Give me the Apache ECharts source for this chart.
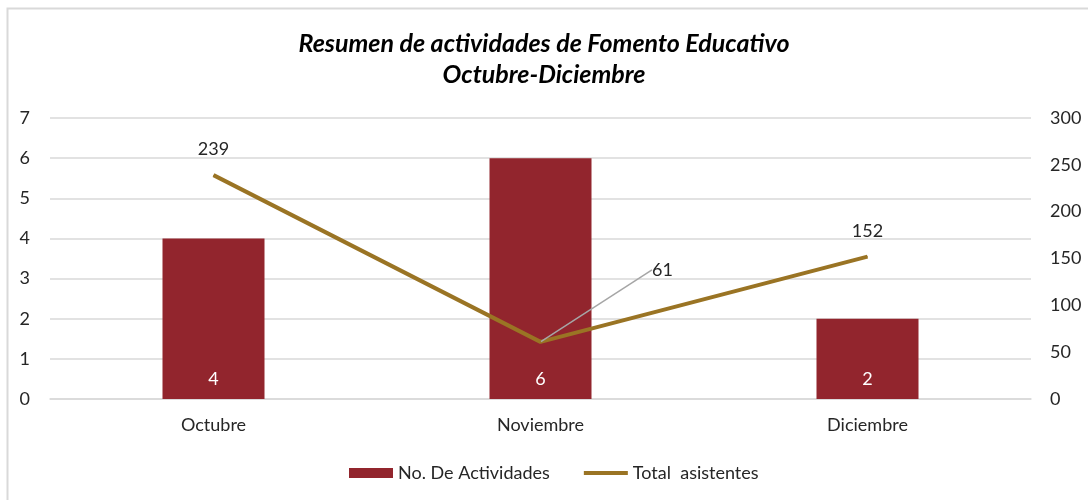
<!DOCTYPE html>
<html><head><meta charset="utf-8">
<script src="https://cdn.jsdelivr.net/npm/echarts@6/dist/echarts.min.js"></script>
<style>html,body{margin:0;padding:0;background:#fff}#c{width:1088px;height:500px}</style>
</head><body><div id="c"></div>
<script>
const categories = ['Octubre', 'Noviembre', 'Diciembre'];
const actividades = [4, 6, 2];
const asistentes = [239, 61, 152];
const leftTicks = [0, 7, 1];
const rightTicks = [0, 300, 50];
const titleLines = ['Resumen de actividades de Fomento Educativo', 'Octubre-Diciembre'];

const F = 'Lato, "Noto Sans", sans-serif';
const chart = echarts.init(document.getElementById('c'));
chart.setOption({
  animation: false,
  textStyle: {fontFamily: F},
  graphic: [{type: 'rect', shape: {x: 7.5, y: 8.5, width: 1100, height: 520}, style: {fill: 'none', stroke: '#d9d9d9', lineWidth: 2}, silent: true}],
  title: {text: titleLines.join('\n'), left: 'center', top: 23, padding: [5, 5, 5, 17],
    textStyle: {fontFamily: F, fontSize: 25, fontWeight: 'bold', fontStyle: 'italic', color: '#000', lineHeight: 31}},
  grid: {left: 50, right: 57, top: 118, bottom: 101},
  legend: {left: 344, top: 459, itemWidth: 44, itemHeight: 10, itemGap: 34,
    textStyle: {fontFamily: F, fontSize: 18, color: '#262626'},
    data: [{name: 'No. De Actividades', icon: 'rect'}, {name: 'Total  asistentes', icon: 'path://M0,0h44v4h-44z'}]},
  xAxis: {type: 'category', data: categories,
    axisLine: {lineStyle: {color: '#d9d9d9', width: 1.5}}, axisTick: {show: false},
    axisLabel: {fontFamily: F, fontSize: 18, color: '#262626', margin: 17}},
  yAxis: [
    {type: 'value', min: leftTicks[0], max: leftTicks[1], interval: leftTicks[2],
      axisLabel: {fontFamily: F, fontSize: 18, color: '#262626', margin: 20},
      splitLine: {lineStyle: {color: '#d9d9d9', width: 1.5}}, axisLine: {show: false}},
    {type: 'value', min: rightTicks[0], max: rightTicks[1], interval: rightTicks[2],
      axisLabel: {fontFamily: F, fontSize: 18, color: '#262626', margin: 19},
      splitLine: {show: false}, axisLine: {show: false}}
  ],
  series: [
    {name: 'No. De Actividades', type: 'bar', data: actividades, barWidth: 102,
      itemStyle: {color: '#92252d'},
      label: {show: true, position: 'insideBottom', distance: 11, color: '#fff', fontFamily: F, fontSize: 18}},
    {name: 'Total  asistentes', type: 'line', yAxisIndex: 1, symbol: 'circle', symbolSize: 1, showSymbol: true,
      lineStyle: {color: '#9a7424', width: 4}, itemStyle: {color: '#9a7424'},
      data: asistentes.map((v, i) => i === 1 ? {value: v,
        label: {position: 'right'}, labelLine: {show: true, lineStyle: {color: '#a6a6a6', width: 1.5}}} : v),
      label: {show: true, position: 'top', distance: 16, color: '#262626', fontFamily: F, fontSize: 18},
      labelLayout: function (p) { return p.dataIndex === 1 ? {dx: 95, dy: -72} : {}; }}
  ]
});
</script></body></html>
